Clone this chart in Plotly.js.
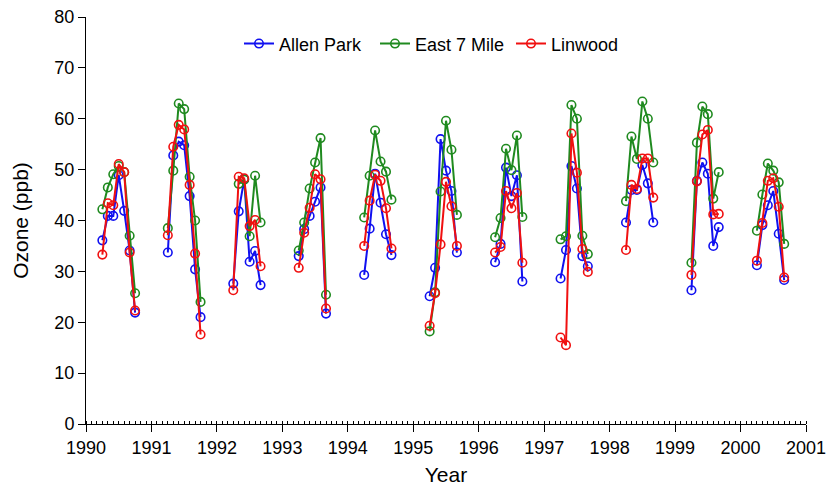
<!DOCTYPE html>
<html>
<head>
<meta charset="utf-8">
<script src="https://cdn.plot.ly/plotly-3.0.1.min.js"></script>
<style>
  html, body { margin: 0; padding: 0; background: #fff; }
  #chart { width: 835px; height: 494px; }
</style>
</head>
<body>
<div id="chart"></div>
<script>
// Sampling: years and months (April..October)
const years = [1990, 1991, 1992, 1993, 1994, 1995, 1996, 1997, 1998, 1999, 2000];
const months = [4, 5, 6, 7, 8, 9, 10];

// Ozone (ppb), one row per year, one column per month (Apr..Oct)
const allenPark = [
  [36.1, 40.9, 40.9, 48.9, 41.9, 34.1, 21.9],
  [33.7, 52.8, 55.5, 54.8, 44.8, 30.4, 21.0],
  [27.6, 41.8, 48.1, 31.9, 34.0, 27.3, null],
  [33.0, 38.3, 40.9, 43.7, 46.5, 21.7, null],
  [29.3, 38.4, 49.2, 43.5, 37.3, 33.2, null],
  [25.1, 30.7, 56.0, 49.8, 45.8, 33.7, null],
  [31.8, 35.4, 50.4, 44.8, 48.9, 28.0, null],
  [28.6, 34.2, 50.7, 46.3, 33.0, 31.0, null],
  [39.6, 46.0, 46.0, 50.9, 47.3, 39.6, null],
  [26.3, 47.8, 51.4, 49.2, 35.0, 38.7, null],
  [31.2, 39.1, 43.0, 45.8, 37.4, 28.3, null]
];
const east7Mile = [
  [42.2, 46.5, 49.1, 50.7, 49.5, 37.0, 25.7],
  [38.5, 49.8, 63.0, 61.9, 48.6, 40.0, 24.0],
  [null, 47.2, 48.0, 36.9, 48.8, 39.6, null],
  [34.1, 39.6, 46.3, 51.4, 56.2, 25.4, null],
  [40.6, 48.8, 57.7, 51.6, 49.6, 44.1, null],
  [18.2, 25.9, 45.7, 59.6, 53.9, 41.1, null],
  [36.7, 40.5, 54.1, 49.9, 56.7, 40.7, null],
  [36.3, 36.9, 62.7, 60.0, 37.0, 33.4, null],
  [43.8, 56.5, 52.1, 63.4, 60.0, 51.4, null],
  [31.7, 55.3, 62.4, 60.9, 44.3, 49.5, null],
  [38.0, 45.1, 51.2, 49.8, 47.5, 35.4, null]
];
const linwood = [
  [33.3, 43.4, 43.0, 51.1, 49.5, 33.7, 22.3],
  [37.1, 54.5, 58.8, 57.9, 47.0, 33.5, 17.6],
  [26.3, 48.6, 48.3, 38.9, 40.1, 31.0, null],
  [30.7, 37.6, 42.5, 49.1, 48.1, 22.7, null],
  [35.0, 43.9, 49.0, 47.8, 42.4, 34.5, null],
  [19.3, 25.7, 35.3, 47.6, 42.8, 35.0, null],
  [33.7, 34.8, 45.8, 42.4, 45.4, 31.7, null],
  [17.0, 15.5, 57.1, 49.4, 34.4, 29.9, null],
  [34.2, 47.0, 46.2, 52.2, 52.2, 44.5, null],
  [29.3, 47.7, 56.9, 57.8, 41.2, 41.3, null],
  [32.1, 39.5, 47.8, 48.3, 42.7, 28.8, null]
];

const seriesNames = ['Allen Park', 'East 7 Mile', 'Linwood'];
const seriesColors = ['#1010f0', '#1f8a1f', '#f01010'];
const seriesData = [allenPark, east7Mile, linwood];

function flatten(table) {
  const xs = [], ys = [];
  years.forEach((yr, i) => {
    months.forEach((m, j) => {
      xs.push(yr + (m - 1) / 12);
      ys.push(table[i][j]);
    });
    xs.push(yr + 0.95);   // break between seasons
    ys.push(null);
  });
  return {xs, ys};
}

const traces = seriesData.map((tbl, k) => {
  const f = flatten(tbl);
  return {
    type: 'scatter',
    mode: 'lines+markers',
    name: seriesNames[k],
    x: f.xs,
    y: f.ys,
    connectgaps: false,
    line: {color: seriesColors[k], width: 2},
    marker: {symbol: 'circle-open', size: 8.5, color: seriesColors[k], line: {width: 1.6, color: seriesColors[k]}}
  };
});

const font = 'Liberation Sans, Arial, Helvetica, sans-serif';

const layout = {
  width: 835,
  height: 494,
  margin: {l: 86, r: 28.5, t: 17.3, b: 70.3, pad: 0},
  paper_bgcolor: '#fff',
  plot_bgcolor: '#fff',
  font: {family: font, size: 18, color: '#000'},
  showlegend: true,
  legend: {
    orientation: 'h',
    x: 0.2125, xanchor: 'left',
    y: 0.934, yanchor: 'middle',
    bgcolor: 'rgba(0,0,0,0)',
    font: {family: font, size: 18, color: '#000'},
    itemwidth: 30,
    entrywidth: 91,
    entrywidthmode: 'pixels',
    tracegroupgap: 0
  },
  xaxis: {
    range: [1990, 2001],
    tickmode: 'linear', tick0: 1990, dtick: 1,
    showgrid: false, zeroline: false,
    showline: true, linecolor: '#000', linewidth: 1,
    ticks: 'outside', ticklen: 7, tickwidth: 1, tickcolor: '#000',
    tickfont: {family: font, size: 18, color: '#000'},
    minor: {dtick: 1/12, tick0: 1990, ticks: 'inside', ticklen: 3, tickwidth: 1, tickcolor: '#000', showgrid: false},
    title: {text: 'Year', font: {family: font, size: 21, color: '#000'}, standoff: 10},
    fixedrange: true
  },
  yaxis: {
    range: [0, 80],
    tickmode: 'linear', tick0: 0, dtick: 10,
    showgrid: false, zeroline: false,
    showline: true, linecolor: '#000', linewidth: 1,
    ticks: 'outside', ticklen: 7, tickwidth: 1, tickcolor: '#000',
    tickfont: {family: font, size: 18, color: '#000'},
    title: {text: 'Ozone (ppb)', font: {family: font, size: 21, color: '#000'}, standoff: 20},
    fixedrange: true
  }
};

Plotly.newPlot('chart', traces, layout, {displayModeBar: false, staticPlot: true});
</script>
</body>
</html>
